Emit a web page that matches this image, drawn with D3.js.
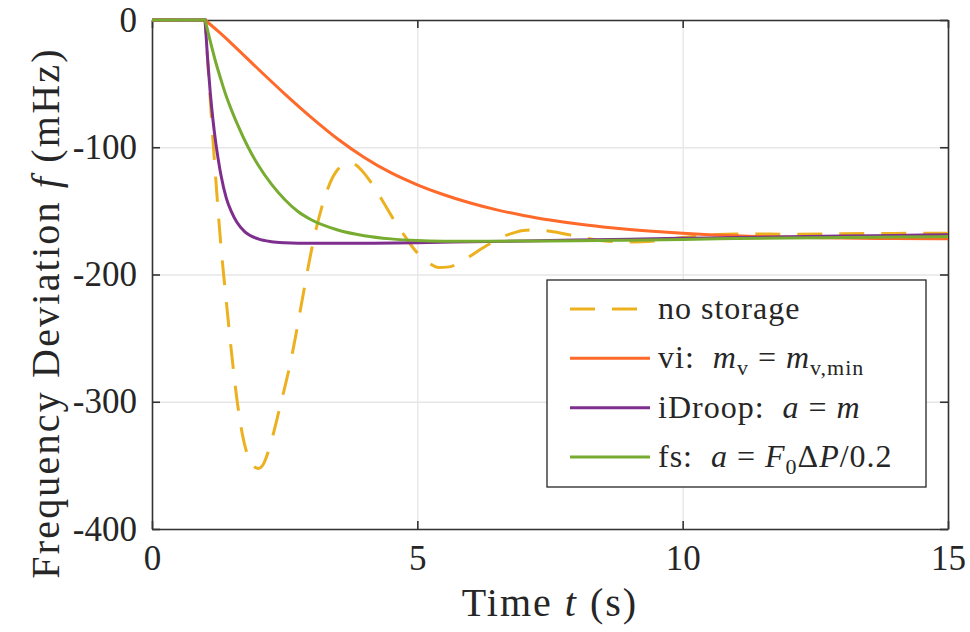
<!DOCTYPE html>
<html>
<head>
<meta charset="utf-8">
<script src="https://cdn.jsdelivr.net/npm/d3@7"></script>
<style>
body{margin:0;background:#fff;}
text{font-family:"Liberation Serif","Times New Roman",serif;fill:#262626;}
</style>
</head>
<body>
<svg width="970" height="632"></svg>
<script>
// axis ticks
var xTicks = [0, 5, 10, 15];
var yTicks = [0, -100, -200, -300, -400];

// no storage
var tNo = [0, 1, 1.05, 1.1, 1.15, 1.2, 1.25, 1.3, 1.4, 1.5, 1.6, 1.7, 1.8, 1.9, 2.0, 2.1, 2.2, 2.3, 2.4, 2.5,
  2.6, 2.7, 2.8, 2.9, 3.0, 3.1, 3.2, 3.3, 3.4, 3.5, 3.6, 3.7, 3.8, 3.9, 4.0, 4.1, 4.2, 4.3, 4.4, 4.5,
  4.6, 4.7, 4.8, 4.9, 5.0, 5.2, 5.4, 5.6, 5.8, 6.0, 6.2, 6.4, 6.6, 6.8, 7.0, 7.2, 7.5, 8.0, 8.5, 9.0,
  9.5, 10, 10.5, 11, 12, 13, 14, 15];
var fNo = [0, 0, -32, -64, -95, -124, -152, -178, -221, -262, -298, -325, -342, -350, -352.5, -349, -338, -323, -306, -289,
  -271, -250, -227, -204, -182, -163, -147, -134, -124, -117.5, -114, -112.5, -113, -116, -120.5, -126, -132, -139, -146, -153,
  -160, -166, -172, -178, -183, -190.5, -194.5, -194, -190.5, -185.5, -180, -175, -170.5, -167.5, -165.5, -165, -166, -170, -173.5, -174.5,
  -173.5, -171, -169, -168.2, -168.3, -168, -167.7, -167.5];

// vi: m_v = m_v,min
var tVi = [0, 1, 1.25, 1.5, 2, 2.5, 3, 3.5, 4, 4.5, 5, 5.5, 6, 6.5, 7, 7.5, 8, 8.5, 9, 9.5, 10, 11, 12, 13, 14, 15];
var fVi = [0, 0, -9, -18.5, -38.5, -58, -76.5, -93.5, -108, -120, -129.5, -137.3, -143.8, -149.2, -153.6, -157.2, -160.2, -162.6, -164.6, -166.2, -167.5,
  -169.5, -170.7, -171.4, -171.8, -172];

// iDroop: a = m
var tDroop = [0, 1, 1.05, 1.1, 1.15, 1.2, 1.25, 1.3, 1.4, 1.5, 1.6, 1.75, 2, 2.25, 2.5, 3, 4, 5, 6, 7, 8, 9, 10, 11, 12, 13, 14, 15];
var fDroop = [0, 0, -32, -58, -79, -96, -110, -122, -140, -151, -159, -166.5, -172, -174.2, -175, -175.5, -175.4, -175, -174.3, -173.6,
  -172.9, -172.2, -171.6, -171, -170.4, -169.8, -169.3, -168.8];

// fs: a = F0 dP / 0.2
var tFs = [0, 1, 1.1, 1.2, 1.3, 1.4, 1.5, 1.6, 1.8, 2, 2.25, 2.5, 2.75, 3, 3.5, 4, 4.5, 5, 5.5, 6, 7, 8, 9, 10, 11, 12, 13, 14, 15];
var fFs = [0, 0, -17, -33, -47, -60, -71, -81, -99, -114, -129, -141, -150.5, -157, -165, -169.5, -172, -173.3, -173.8, -173.9,
  -173.7, -173.5, -173, -172.4, -171.8, -171.3, -170.9, -170.5, -170.2];

var seriesColors = ["#EDB120", "#FF6929", "#7E2F8E", "#77AC30"];

// legend labels, split into plain / italic / subscript pieces
var legendLabels = [
  [{t: "no storage"}],
  [{t: "vi:\u00a0\u00a0"}, {t: "m", it: 1}, {t: "v", sub: 1}, {t: "\u00a0=\u00a0"}, {t: "m", it: 1}, {t: "v,min", sub: 1}],
  [{t: "iDroop:\u00a0\u00a0"}, {t: "a", it: 1}, {t: "\u00a0=\u00a0"}, {t: "m", it: 1}],
  [{t: "fs:\u00a0\u00a0"}, {t: "a", it: 1}, {t: "\u00a0=\u00a0"}, {t: "F", it: 1}, {t: "0", sub: 1}, {t: "\u0394"}, {t: "P", it: 1}, {t: "/0.2"}]
];

var series = [
  {t: tNo, f: fNo, dash: "25,17"},
  {t: tVi, f: fVi},
  {t: tDroop, f: fDroop},
  {t: tFs, f: fFs}
];

var svg = d3.select("svg");
var pl = 152, pr = 948, pt = 20, pb = 529;

var x = d3.scaleLinear().domain([0, 15]).range([pl, pr]);
var y = d3.scaleLinear().domain([-400, 0]).range([pb, pt]);

// grid
svg.append("g")
    .attr("transform", "translate(0," + pb + ")")
    .call(d3.axisBottom(x).tickValues(xTicks).tickSize(-(pb - pt)).tickFormat(""))
    .call(g => g.select(".domain").remove())
    .selectAll("line").attr("stroke", "#e6e6e6").attr("stroke-width", 1.3);
svg.append("g")
    .attr("transform", "translate(" + pl + ",0)")
    .call(d3.axisLeft(y).tickValues(yTicks).tickSize(-(pr - pl)).tickFormat(""))
    .call(g => g.select(".domain").remove())
    .selectAll("line").attr("stroke", "#e6e6e6").attr("stroke-width", 1.3);

// axes (box with inward ticks)
function styleAxis(g) {
  g.attr("font-size", 35).style("color", "#333");
  g.select(".domain").attr("stroke-width", 1.6);
  g.selectAll(".tick line").attr("stroke-width", 1.6);
}
svg.append("g")
    .attr("transform", "translate(0," + pb + ")")
    .call(d3.axisBottom(x).tickValues(xTicks).tickSize(-8).tickSizeOuter(0).tickPadding(16).tickFormat(d => String(d)))
    .call(styleAxis);
svg.append("g")
    .attr("transform", "translate(0," + pt + ")")
    .call(d3.axisTop(x).tickValues(xTicks).tickSize(-8).tickSizeOuter(0).tickFormat(""))
    .call(styleAxis);
svg.append("g")
    .attr("transform", "translate(" + pl + ",0)")
    .call(d3.axisLeft(y).tickValues(yTicks).tickSize(-8).tickSizeOuter(0).tickPadding(15).tickFormat(d => String(d)))
    .call(styleAxis);
svg.append("g")
    .attr("transform", "translate(" + pr + ",0)")
    .call(d3.axisRight(y).tickValues(yTicks).tickSize(-8).tickSizeOuter(0).tickFormat(""))
    .call(styleAxis);

// curves: flat part before the step drawn straight, the rest smoothed
var flat = d3.line().x(d => x(d[0])).y(d => y(d[1]));
var smooth = d3.line().x(d => x(d[0])).y(d => y(d[1])).curve(d3.curveMonotoneX);

series.forEach(function(s, i) {
  var pts = s.t.map((t, j) => [t, s.f[j]]);
  var head = pts.filter(d => d[0] <= 1);
  var tail = pts.filter(d => d[0] >= 1);
  svg.append("path")
      .attr("fill", "none")
      .attr("stroke", seriesColors[i])
      .attr("stroke-width", 3)
      .attr("stroke-dasharray", s.dash || null)
      .attr("d", flat(head) + smooth(tail).replace(/^M/, "L"));
});

// axis titles
var xl = svg.append("text")
    .attr("x", (pl + pr) / 2).attr("y", 616)
    .attr("text-anchor", "middle")
    .attr("font-size", 40)
    .style("letter-spacing", "2px")
    .style("white-space", "pre");
xl.append("tspan").text("Time ");
xl.append("tspan").style("font-style", "italic").text("t");
xl.append("tspan").text(" (s)");

var yl = svg.append("text")
    .attr("transform", "translate(59,313) rotate(-90)")
    .attr("text-anchor", "middle")
    .attr("font-size", 40)
    .style("letter-spacing", "2.2px")
    .style("white-space", "pre");
yl.append("tspan").text("Frequency Deviation ");
yl.append("tspan").style("font-style", "italic").text("f");
yl.append("tspan").text(" (mHz)");

// legend
var lg = svg.append("g");
lg.append("rect")
    .attr("x", 547).attr("y", 280).attr("width", 379).attr("height", 207)
    .attr("fill", "#fff").attr("stroke", "#262626").attr("stroke-width", 1.3);

var rowY = d3.scalePoint().domain(d3.range(legendLabels.length)).range([309, 457]);

legendLabels.forEach(function(pieces, i) {
  var yy = rowY(i);
  lg.append("line")
      .attr("x1", 570).attr("x2", 650).attr("y1", yy).attr("y2", yy)
      .attr("stroke", seriesColors[i]).attr("stroke-width", 3)
      .attr("stroke-dasharray", series[i].dash || null);
  var txt = lg.append("text")
      .attr("x", 658).attr("y", yy + 10)
      .attr("font-size", 32)
      .style("letter-spacing", "1px")
      .style("white-space", "pre");
  var shifted = false;
  pieces.forEach(function(p) {
    var ts = txt.append("tspan").text(p.t);
    if (p.it) ts.style("font-style", "italic");
    if (p.sub) {
      ts.attr("font-size", 22);
      if (!shifted) { ts.attr("dy", 7); shifted = true; }
    } else if (shifted) {
      ts.attr("dy", -7); shifted = false;
    }
  });
});
</script>
</body>
</html>
